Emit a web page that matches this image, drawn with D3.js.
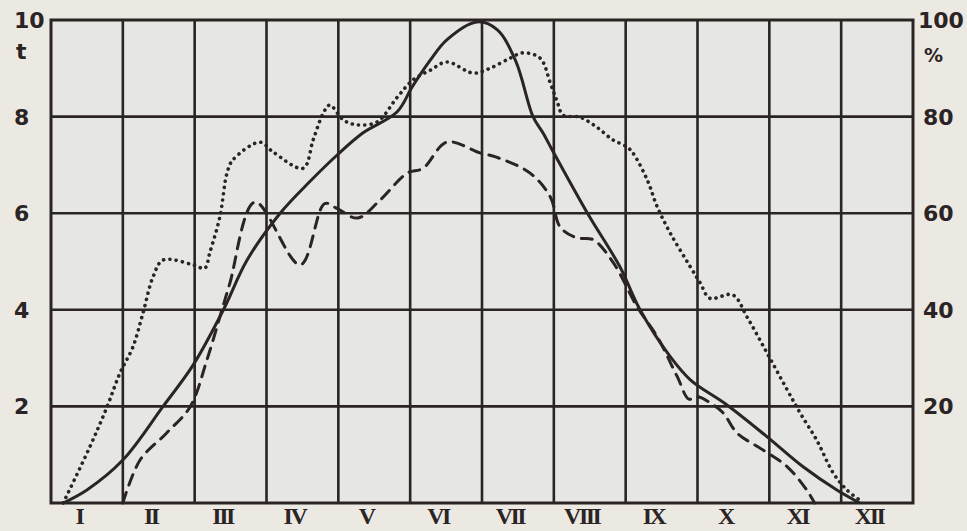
<!DOCTYPE html>
<html>
<head>
<meta charset="utf-8">
<script src="https://cdn.jsdelivr.net/npm/d3@7"></script>
<style>
  body { margin: 0; background: #ece9e3; }
  svg { display: block; }
  .num { font-family: "DejaVu Sans", sans-serif; font-weight: bold; font-size: 22px; fill: #2a2424; }
  .roman { font-family: "Liberation Serif", serif; font-weight: bold; font-size: 24px; fill: #2a2424; letter-spacing: -2.5px; }
</style>
</head>
<body>
<svg id="vis" width="967" height="531"></svg>
<script>
// month labels along the bottom
const months = ["I", "II", "III", "IV", "V", "VI", "VII", "VIII", "IX", "X", "XI", "XII"];
const leftTicks = [2, 4, 6, 8, 10];
const rightTicks = [20, 40, 60, 80, 100];

// solid line (t), position in months
const solidMonth = [0.17, 0.5, 1.0, 1.56, 1.98, 2.4, 2.73, 3.19, 3.6, 3.98, 4.34, 4.82, 5.03, 5.28, 5.51, 5.93, 6.21, 6.47, 6.71, 6.85, 6.97, 7.46, 7.92, 8.2, 8.62, 8.9, 9.41, 9.97, 10.47, 10.94, 11.26];
const solidT = [0, 0.27, 0.89, 2.0, 2.86, 4.0, 5.03, 6.0, 6.65, 7.2, 7.66, 8.1, 8.62, 9.17, 9.59, 9.96, 9.8, 9.15, 8.0, 7.66, 7.33, 6.02, 4.89, 4.0, 3.03, 2.55, 2.03, 1.37, 0.75, 0.27, 0];

// dashed line (t)
const dashMonth = [1.0, 1.24, 1.61, 1.94, 2.17, 2.38, 2.49, 2.84, 3.47, 3.81, 3.98, 4.27, 4.58, 4.96, 5.18, 5.51, 5.97, 6.2, 6.67, 6.95, 7.09, 7.32, 7.55, 7.83, 8.16, 8.44, 8.72, 8.88, 9.0, 9.2, 9.36, 9.55, 9.91, 10.25, 10.52, 10.63];
const dashT = [0, 0.89, 1.45, 2.0, 2.96, 4.0, 4.55, 6.23, 4.93, 6.2, 6.1, 5.9, 6.27, 6.83, 6.93, 7.47, 7.25, 7.16, 6.83, 6.34, 5.71, 5.49, 5.45, 4.97, 4.06, 3.44, 2.61, 2.15, 2.2, 2.05, 1.86, 1.45, 1.1, 0.75, 0.27, 0];

// dotted line (%)
const dotMonth = [0.17, 0.54, 0.78, 0.96, 1.14, 1.28, 1.42, 1.56, 1.98, 2.14, 2.21, 2.35, 2.45, 2.53, 2.91, 3.09, 3.51, 3.65, 3.79, 3.88, 4.07, 4.26, 4.54, 4.82, 5.04, 5.28, 5.51, 5.88, 6.11, 6.39, 6.57, 6.81, 6.95, 7.04, 7.13, 7.36, 7.6, 7.82, 8.02, 8.1, 8.3, 8.44, 8.62, 8.9, 9.04, 9.17, 9.49, 9.69, 9.97, 10.25, 10.43, 10.66, 10.89, 11.08, 11.26];
const dotPct = [0, 11.6, 19.9, 26.9, 32.3, 39.3, 46.8, 50.3, 49.3, 48.6, 51.8, 59.2, 68.3, 71, 74.7, 72.7, 69.3, 75.2, 80.7, 82.4, 79.3, 78.3, 78.9, 84, 87.6, 89.6, 91.3, 89, 90, 92.1, 93.2, 92.1, 87, 83.4, 80.3, 79.9, 77.8, 75.2, 73.7, 72.5, 66.9, 61.3, 55.9, 48.9, 45.5, 42.4, 43.1, 38.5, 31, 23.4, 18.6, 13, 6.2, 2.7, 0.6];

const ink = "#2a2424";
const plot = { left: 51, right: 913, top: 20, bottom: 503 };

const svg = d3.select("svg#vis");

const x = d3.scaleLinear().domain([0, 12]).range([plot.left, plot.right]);
const yT = d3.scaleLinear().domain([0, 10]).range([plot.bottom, plot.top]);
const yPct = d3.scaleLinear().domain([0, 100]).range([plot.bottom, plot.top]);

// plot background
svg.append("rect")
  .attr("x", plot.left).attr("y", plot.top)
  .attr("width", plot.right - plot.left).attr("height", plot.bottom - plot.top)
  .attr("fill", "#e6e6e3");

// grid
const grid = svg.append("g").attr("stroke", ink).attr("stroke-width", 2.6);
grid.selectAll("line.v")
  .data(d3.range(1, 12))
  .enter().append("line")
  .attr("class", "v")
  .attr("x1", d => x(d)).attr("x2", d => x(d))
  .attr("y1", plot.top).attr("y2", plot.bottom);
grid.selectAll("line.h")
  .data(leftTicks.slice(0, -1))
  .enter().append("line")
  .attr("class", "h")
  .attr("x1", plot.left).attr("x2", plot.right)
  .attr("y1", d => yT(d)).attr("y2", d => yT(d));

svg.append("rect")
  .attr("x", plot.left).attr("y", plot.top)
  .attr("width", plot.right - plot.left).attr("height", plot.bottom - plot.top)
  .attr("fill", "none").attr("stroke", ink).attr("stroke-width", 3);

// lines
const curve = d3.curveCatmullRom.alpha(0.5);
const lineT = d3.line().x(d => x(d[0])).y(d => yT(d[1])).curve(curve);
const linePct = d3.line().x(d => x(d[0])).y(d => yPct(d[1])).curve(curve);

svg.append("path")
  .datum(d3.zip(dotMonth, dotPct))
  .attr("d", linePct)
  .attr("fill", "none").attr("stroke", ink)
  .attr("stroke-width", 3.6).attr("stroke-linecap", "round")
  .attr("stroke-dasharray", "0.1 6.2");

svg.append("path")
  .datum(d3.zip(dashMonth, dashT))
  .attr("d", lineT)
  .attr("fill", "none").attr("stroke", ink)
  .attr("stroke-width", 3).attr("stroke-linecap", "round")
  .attr("stroke-dasharray", "11 8");

svg.append("path")
  .datum(d3.zip(solidMonth, solidT))
  .attr("d", lineT)
  .attr("fill", "none").attr("stroke", ink)
  .attr("stroke-width", 3);

// left axis labels
svg.selectAll("text.left")
  .data(leftTicks)
  .enter().append("text")
  .attr("class", "num left")
  .attr("x", 14).attr("y", d => yT(d))
  .attr("dy", "0.36em")
  .text(d => d);
svg.append("text").attr("class", "num")
  .attr("x", 16).attr("y", 51).attr("dy", "0.36em").text("t");

// right axis labels
svg.selectAll("text.right")
  .data(rightTicks)
  .enter().append("text")
  .attr("class", "num right")
  .attr("x", d => d === 100 ? 918 : 923).attr("y", d => yPct(d))
  .attr("dy", "0.36em")
  .text(d => d);
svg.append("text").attr("class", "num")
  .attr("x", 924).attr("y", 55).attr("dy", "0.36em")
  .style("font-size", "19px").text("%");

// month labels
svg.selectAll("text.roman")
  .data(months)
  .enter().append("text")
  .attr("class", "roman")
  .attr("x", (d, i) => x(i + 0.5) - 8)
  .attr("y", 524)
  .attr("text-anchor", "middle")
  .text(d => d);
</script>
</body>
</html>
